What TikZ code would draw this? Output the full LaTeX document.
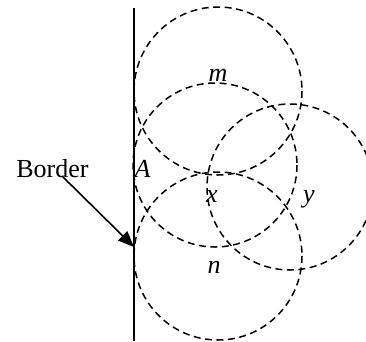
\documentclass[tikz,border=0pt]{standalone}
\usepackage{fontspec}
\setmainfont{Liberation Serif}
\usetikzlibrary{arrows.meta}
\begin{document}
\begin{tikzpicture}[x=1pt,y=-1pt,
  zone/.style={draw,line width=1.5pt,dash pattern=on 7pt off 4.5pt},
  lbl/.style={inner sep=0pt,anchor=base,font=\fontsize{26}{30}\selectfont\itshape},
  txt/.style={inner sep=0pt,anchor=base,font=\fontsize{26}{30}\selectfont}]
\useasboundingbox (0,0) rectangle (366,341);
\clip (0,0) rectangle (366,341);
% circles
\draw[zone] (218,91) circle[radius=84];
\draw[zone] (215,165) circle[radius=82];
\draw[zone] (218,256) circle[radius=84];
\draw[zone] (290,187) circle[radius=83];
% border line
\coordinate (btop) at (134,8);
\coordinate (bbot) at (134,341);
\draw[line width=1.7pt] (btop) -- (bbot);
% labels
\node[txt] (border) at (52.5,177) {Border};
\node[lbl] (A) at (142.5,177) {A};
\node[lbl] (m) at (218,81) {m};
\node[lbl] (x) at (212,202) {x};
\node[lbl] (y) at (309,202) {y};
\node[lbl] (n) at (214,273) {n};
% arrow
\coordinate (astart) at (62,176);
\coordinate (atip) at (134,247);
\draw[line width=1.6pt,-{Triangle[length=16pt,width=13pt]}] (astart) -- (atip);
\end{tikzpicture}
\end{document}
